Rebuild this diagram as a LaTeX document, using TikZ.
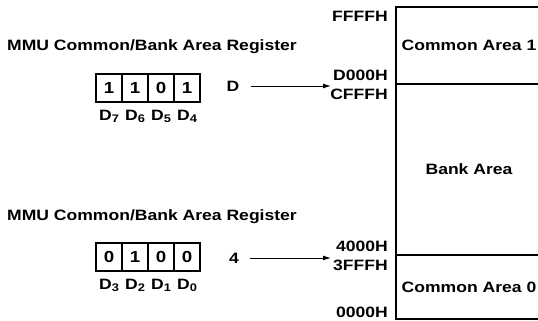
\documentclass[tikz,border=0pt]{standalone}
\usepackage{fontspec}
\newfontfamily\mmufont{Liberation Sans Bold}[FakeStretch=1.17]
\newcommand\labfont{\mmufont\fontsize{15}{17}\selectfont}
\newcommand\bitfont{\mmufont\fontsize{16}{18}\selectfont}
\newcommand\lowdig[1]{\raisebox{-1.5pt}{\fontsize{11}{11}\selectfont#1}}
\usetikzlibrary{arrows.meta,positioning}

\begin{document}
\begin{tikzpicture}[>={Latex[length=8pt,width=5pt]},x=1pt,y=-1pt]
  \tikzstyle{txt}=[font=\labfont,inner sep=0pt]
  \tikzstyle{cell}=[draw,line width=1.6pt,outer sep=0pt,inner sep=0pt,minimum width=26pt,minimum height=28pt,font=\bitfont]
  \tikzstyle{area}=[draw,line width=1.3pt,outer sep=0pt,inner sep=0pt,minimum width=146pt,font=\labfont]
  \useasboundingbox (0,0) rectangle (538,321);
  % upper register
  \node[txt,anchor=west] (titlehi) at (7,47) {MMU Common/Bank Area Register};
  \node[cell] (b7) at (109,88) {1};
  \node[cell,right=0pt of b7] (b6) {1};
  \node[cell,right=0pt of b6] (b5) {0};
  \node[cell,right=0pt of b5] (b4) {1};
  \node[txt,below=8pt of b7] (l7) {D\lowdig{7}};
  \node[txt,below=8pt of b6] (l6) {D\lowdig{6}};
  \node[txt,below=8pt of b5] (l5) {D\lowdig{5}};
  \node[txt,below=8pt of b4] (l4) {D\lowdig{4}};
  \node[txt] (selhi) at (233,86) {D};
  % lower register
  \node[txt,anchor=west] (titlelo) at (7,217) {MMU Common/Bank Area Register};
  \node[cell] (b3) at (109,257) {0};
  \node[cell,right=0pt of b3] (b2) {1};
  \node[cell,right=0pt of b2] (b1) {0};
  \node[cell,right=0pt of b1] (b0) {0};
  \node[txt,below=8pt of b3] (l3) {D\lowdig{3}};
  \node[txt,below=8pt of b2] (l2) {D\lowdig{2}};
  \node[txt,below=8pt of b1] (l1) {D\lowdig{1}};
  \node[txt,below=8pt of b0] (l0) {D\lowdig{0}};
  \node[txt] (sello) at (234,258) {4};
  % memory map
  \node[area,minimum height=77pt] (com1) at (469,45.5) {Common Area 1};
  \node[area,minimum height=171pt,below=0pt of com1] (bank) {Bank Area};
  \node[area,minimum height=64pt,below=0pt of bank] (com0) {Common Area 0};
  \node[txt,anchor=east] (aFFFF) at (388,16) {FFFFH};
  \node[txt,anchor=east] (aD000) at (388,75) {D000H};
  \node[txt,anchor=east] (aCFFF) at (388,94) {CFFFH};
  \node[txt,anchor=east] (a4000) at (388,246) {4000H};
  \node[txt,anchor=east] (a3FFF) at (388,265) {3FFFH};
  \node[txt,anchor=east] (a0000) at (388,312) {0000H};
  \coordinate (tophi) at (331,86);
  \coordinate (toplo) at (331,258);
  \draw[line width=1pt,->,shorten <=11pt] (selhi) -- (tophi);
  \draw[line width=1pt,->,shorten <=11pt] (sello) -- (toplo);
\end{tikzpicture}
\end{document}
